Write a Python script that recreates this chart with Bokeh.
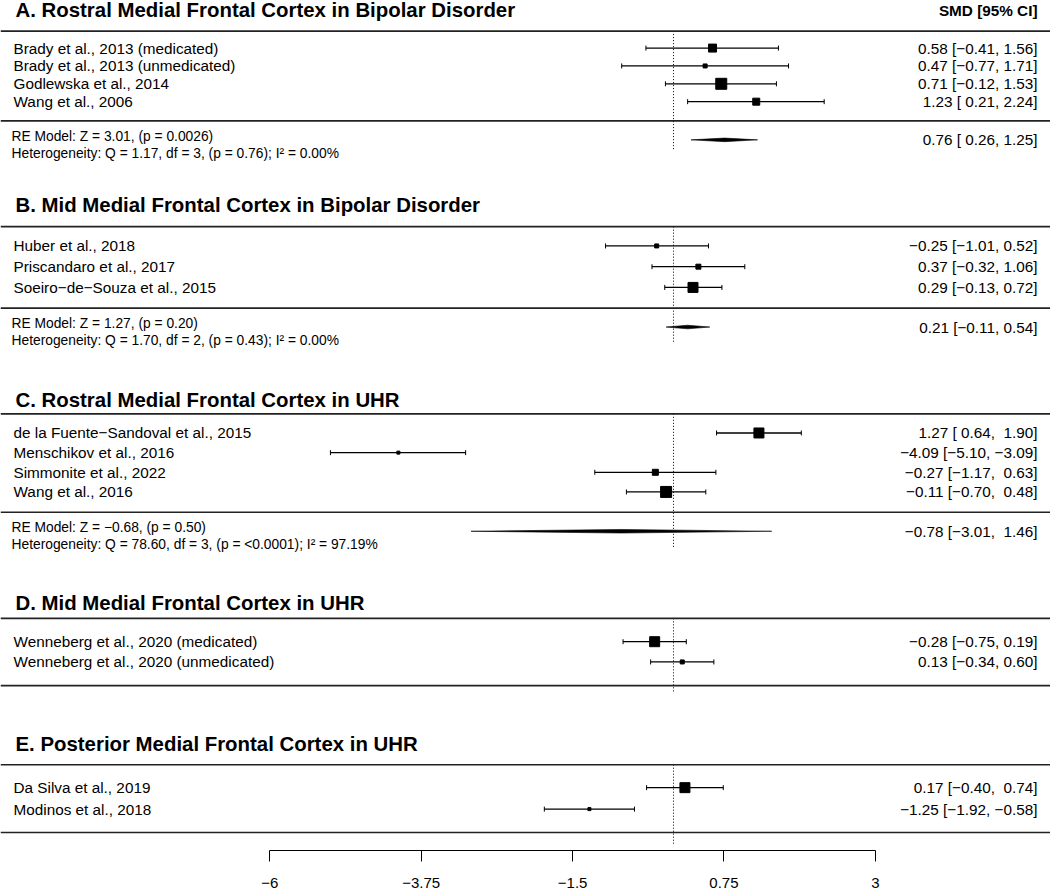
from bokeh.plotting import figure
from bokeh.models import Range1d, Span, FixedTicker
from bokeh.core.properties import value
from bokeh.embed import file_html
from bokeh.resources import INLINE
import math

MINUS = "\u2212"
NBSP = "\u00a0"
FONT = "Liberation Sans"

# ---------------- data ----------------
section_titles = [
    "A. Rostral Medial Frontal Cortex in Bipolar Disorder",
    "B. Mid Medial Frontal Cortex in Bipolar Disorder",
    "C. Rostral Medial Frontal Cortex in UHR",
    "D. Mid Medial Frontal Cortex in UHR",
    "E. Posterior Medial Frontal Cortex in UHR",
]
study_labels = [
    ["Brady et al., 2013 (medicated)", "Brady et al., 2013 (unmedicated)",
     "Godlewska et al., 2014", "Wang et al., 2006"],
    ["Huber et al., 2018", "Priscandaro et al., 2017",
     "Soeiro" + MINUS + "de" + MINUS + "Souza et al., 2015"],
    ["de la Fuente" + MINUS + "Sandoval et al., 2015", "Menschikov et al., 2016",
     "Simmonite et al., 2022", "Wang et al., 2016"],
    ["Wenneberg et al., 2020 (medicated)", "Wenneberg et al., 2020 (unmedicated)"],
    ["Da Silva et al., 2019", "Modinos et al., 2018"],
]
smd = [
    [0.58, 0.47, 0.71, 1.23],
    [-0.25, 0.37, 0.29],
    [1.27, -4.09, -0.27, -0.11],
    [-0.28, 0.13],
    [0.17, -1.25],
]
ci_lower = [
    [-0.41, -0.77, -0.12, 0.21],
    [-1.01, -0.32, -0.13],
    [0.64, -5.10, -1.17, -0.70],
    [-0.75, -0.34],
    [-0.40, -1.92],
]
ci_upper = [
    [1.56, 1.71, 1.53, 2.24],
    [0.52, 1.06, 0.72],
    [1.90, -3.09, 0.63, 0.48],
    [0.19, 0.60],
    [0.74, -0.58],
]
# relative study weights shown as square size (px)
weight_px = [
    [8, 4, 11, 7],
    [4, 5, 10],
    [10, 3, 6, 11],
    [10, 4],
    [10, 3],
]
re_smd = [0.76, 0.21, -0.78, None, None]
re_lower = [0.26, -0.11, -3.01, None, None]
re_upper = [1.25, 0.54, 1.46, None, None]
re_model_text = [
    "RE Model: Z = 3.01, (p = 0.0026)",
    "RE Model: Z = 1.27, (p = 0.20)",
    "RE Model: Z = " + MINUS + "0.68, (p = 0.50)",
    None, None,
]
heterogeneity_text = [
    "Heterogeneity: Q = 1.17, df = 3, (p = 0.76); I\u00b2 = 0.00%",
    "Heterogeneity: Q = 1.70, df = 2, (p = 0.43); I\u00b2 = 0.00%",
    "Heterogeneity: Q = 78.60, df = 3, (p = <0.0001); I\u00b2 = 97.19%",
    None, None,
]
tick_values = [-6, -3.75, -1.5, 0.75, 3]
header_right = "SMD [95% CI]"

# ---------------- layout (vertical positions in layout units) ----------------
layout = [
    dict(title=10, top=30.7, row0=47.7, step=17.9, bottom=120.7, ref_end=151),
    dict(title=205, top=226.7, row0=246, step=20.8, bottom=308.3, ref_end=343),
    dict(title=400.5, top=414.3, row0=433.5, step=19.7, bottom=513, ref_end=548),
    dict(title=603.5, top=619.3, row0=642.7, step=20.3, bottom=686.7, ref_end=693),
    dict(title=745.5, top=766, row0=789, step=21.5, bottom=834, ref_end=846),
]
Y_AXIS = 852
PX_PER_UNIT = 67.27
ZERO_PX = 673
FRAME_W = 1050
XS = -ZERO_PX / PX_PER_UNIT
XE = (FRAME_W - ZERO_PX) / PX_PER_UNIT


def fmt(v):
    s = f"{abs(v):.2f}"
    return MINUS + s if v < 0 else s


def pad(strings):
    w = max(len(s) for s in strings)
    return [NBSP * (w - len(s)) + s for s in strings]


p = figure(frame_width=FRAME_W, frame_height=850,
           x_range=Range1d(XS, XE), y_range=Range1d(Y_AXIS, 0),
           output_backend="svg", toolbar_location=None,
           min_border=0, min_border_left=0, min_border_right=0,
           min_border_top=0, min_border_bottom=0,
           y_axis_location=None)
p.outline_line_color = None
p.xgrid.visible = False
p.ygrid.visible = False
p.background_fill_color = "white"
p.border_fill_color = "white"

ax = p.xaxis[0]
ax.ticker = FixedTicker(ticks=tick_values)
ax.bounds = (min(tick_values), max(tick_values))
ax.major_label_overrides = {float(t): (MINUS + f"{abs(t):g}" if t < 0 else f"{t:g}") for t in tick_values}
ax.major_tick_out = 11
ax.major_tick_in = 0
ax.minor_tick_out = 0
ax.minor_tick_in = 0
ax.axis_line_color = "black"
ax.axis_line_width = 1
ax.major_tick_line_color = "black"
ax.major_tick_line_width = 1
ax.major_label_text_font = FONT
ax.major_label_text_font_size = "15px"
ax.major_label_text_color = "black"
ax.major_label_standoff = 16

# header
p.text(x=[XE], y=[layout[0]["title"]], text=[header_right], text_font=value(FONT),
       text_font_size="15.3px", text_font_style="bold", text_align="right",
       text_baseline="middle", x_offset=-13, text_color="black")

for i, lay in enumerate(layout):
    n = len(study_labels[i])
    ys = [lay["row0"] + k * lay["step"] for k in range(n)]

    # title
    p.text(x=[XS], y=[lay["title"]], text=[section_titles[i]], text_font=value(FONT),
           text_font_size="20.4px", text_font_style="bold", text_align="left",
           text_baseline="middle", x_offset=15, text_color="black")

    # horizontal rules
    for yy in (lay["top"], lay["bottom"]):
        p.add_layout(Span(location=yy, dimension="width", line_color="#222222", line_width=1.6))

    # reference line at zero
    p.segment(x0=[0], y0=[lay["top"]], x1=[0], y1=[lay["ref_end"]],
              line_color="black", line_width=1, line_dash="1 2")

    # study labels
    p.text(x=[XS] * n, y=ys, text=study_labels[i], text_font=value(FONT),
           text_font_size="15.3px", text_align="left", text_baseline="middle",
           x_offset=13, text_color="black")

    # CIs
    p.segment(x0=ci_lower[i], y0=ys, x1=ci_upper[i], y1=ys, line_color="black", line_width=1.3)
    p.scatter(x=ci_lower[i] + ci_upper[i], y=ys + ys, marker="dash", angle=math.pi / 2,
              size=5, line_color="black", line_width=1)
    p.scatter(x=smd[i], y=ys, marker="square", size=weight_px[i],
              fill_color="black", line_color="black")

    # right-hand text
    lows = [fmt(v) for v in ci_lower[i]]
    highs = [fmt(v) for v in ci_upper[i]]
    ests = [fmt(v) for v in smd[i]]
    if re_smd[i] is not None:
        lows.append(fmt(re_lower[i]))
        highs.append(fmt(re_upper[i]))
        ests.append(fmt(re_smd[i]))
    lows = pad(lows)
    highs = pad(highs)
    right_txt = [f"{e} [{lo}, {hi}]" for e, lo, hi in zip(ests, lows, highs)]
    right_y = list(ys)

    if re_smd[i] is not None:
        yd = lay["bottom"] + 19
        right_y.append(yd)
        p.patches(xs=[[re_lower[i], re_smd[i], re_upper[i], re_smd[i]]],
                  ys=[[yd, yd - 1.8, yd, yd + 1.8]],
                  fill_color="black", line_color="black", line_width=0.6)
        p.text(x=[XS, XS], y=[lay["bottom"] + 15.5, lay["bottom"] + 32.5],
               text=[re_model_text[i], heterogeneity_text[i]], text_font=value(FONT),
               text_font_size="13.8px", text_align="left", text_baseline="middle",
               x_offset=11, text_color="black")

    p.text(x=[XE] * len(right_txt), y=right_y, text=right_txt, text_font=value(FONT),
           text_font_size="15.3px", text_align="right", text_baseline="middle",
           x_offset=-13, text_color="black")

open("out.html", "w").write(file_html(p, INLINE))
